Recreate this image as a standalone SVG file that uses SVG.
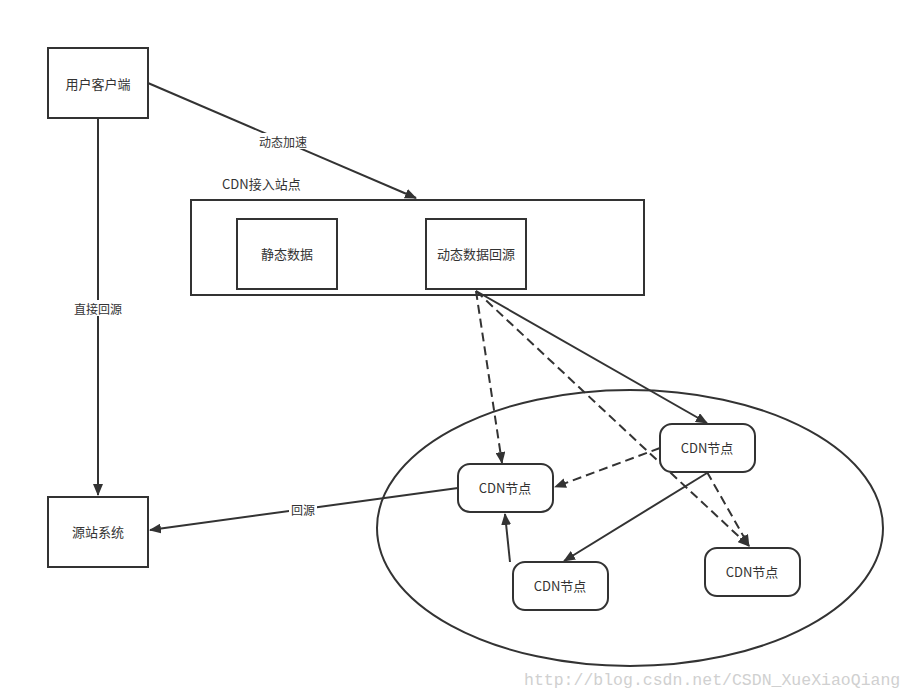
<svg xmlns="http://www.w3.org/2000/svg" width="915" height="699" viewBox="0 0 915 699">
<style>
.box{fill:#fff;stroke:#333;stroke-width:2}
.node{fill:#fff;stroke:#333;stroke-width:2}
.t{font-family:"Noto Sans CJK SC","Liberation Sans",sans-serif;font-size:13px;fill:#333;text-anchor:middle;dominant-baseline:central}
.ln{fill:none;stroke:#333;stroke-width:2}
.dash{stroke-dasharray:9 5}
.lbl{font-family:"Noto Sans CJK SC","Liberation Sans",sans-serif;font-size:12px;fill:#333;text-anchor:middle;dominant-baseline:central}
</style>
<defs>
<marker id="ah" viewBox="0 0 12 10" refX="11" refY="5" markerWidth="12" markerHeight="10" markerUnits="userSpaceOnUse" orient="auto">
<path d="M0,0 L12,5 L0,10 Z" fill="#333"/>
</marker>
</defs>
<rect width="915" height="699" fill="#fff"/>
<ellipse cx="630" cy="528" rx="253" ry="138" fill="none" stroke="#333" stroke-width="2"/>
<g id="site">
<rect class="box" x="191" y="200" width="453" height="95"/>
<text x="222" y="183" font-family="Noto Sans CJK SC, Liberation Sans, sans-serif" font-size="13" fill="#333" dominant-baseline="central">CDN接入站点</text>
</g>
<g id="connectors">
<line class="ln" x1="148" y1="83" x2="416" y2="198" marker-end="url(#ah)"/>
<line class="ln" x1="98" y1="118" x2="98" y2="495" marker-end="url(#ah)"/>
<line class="ln dash" x1="476" y1="291" x2="502" y2="463" marker-end="url(#ah)"/>
<line class="ln dash" x1="476" y1="291" x2="749" y2="546" marker-end="url(#ah)"/>
<line class="ln" x1="476" y1="291" x2="707" y2="423" marker-end="url(#ah)"/>
<line class="ln dash" x1="660" y1="448" x2="555" y2="487" marker-end="url(#ah)"/>
<line class="ln dash" x1="707" y1="472" x2="749" y2="546" marker-end="url(#ah)"/>
<line class="ln" x1="707" y1="473" x2="564" y2="561" marker-end="url(#ah)"/>
<line class="ln" x1="510" y1="562" x2="505" y2="514" marker-end="url(#ah)"/>
<line class="ln" x1="458" y1="488" x2="150" y2="530" marker-end="url(#ah)"/>
<rect x="256" y="133" width="54" height="16" fill="#fff"/>
<text class="lbl" x="283" y="141">动态加速</text>
<rect x="71" y="300" width="54" height="16" fill="#fff"/>
<text class="lbl" x="98" y="308">直接回源</text>
<rect x="289" y="501" width="28" height="16" fill="#fff"/>
<text class="lbl" x="303" y="509">回源</text>
</g>
<g id="client">
<rect class="box" x="48" y="48" width="100" height="70"/>
<text class="t" x="98" y="83">用户客户端</text>
</g>
<g id="static">
<rect class="box" x="237" y="219" width="100" height="70"/>
<text class="t" x="287" y="253">静态数据</text>
</g>
<g id="dynamic">
<rect class="box" x="426" y="219" width="100" height="70"/>
<text class="t" x="476" y="253">动态数据回源</text>
</g>
<g id="origin">
<rect class="box" x="48" y="497" width="100" height="70"/>
<text class="t" x="98" y="531">源站系统</text>
</g>
<g id="nodeA">
<rect class="node" x="458" y="464" width="95" height="48" rx="12"/>
<text class="t" x="505" y="487">CDN节点</text>
</g>
<g id="nodeB">
<rect class="node" x="660" y="424" width="95" height="48" rx="12"/>
<text class="t" x="707" y="447">CDN节点</text>
</g>
<g id="nodeC">
<rect class="node" x="513" y="562" width="95" height="48" rx="12"/>
<text class="t" x="560" y="585">CDN节点</text>
</g>
<g id="nodeD">
<rect class="node" x="705" y="548" width="95" height="48" rx="12"/>
<text class="t" x="752" y="571">CDN节点</text>
</g>
<text x="524" y="680" font-family="Liberation Mono, monospace" font-size="16.5" fill="#d0d0d0" dominant-baseline="central">http://blog.csdn.net/CSDN_XueXiaoQiang</text>
</svg>
